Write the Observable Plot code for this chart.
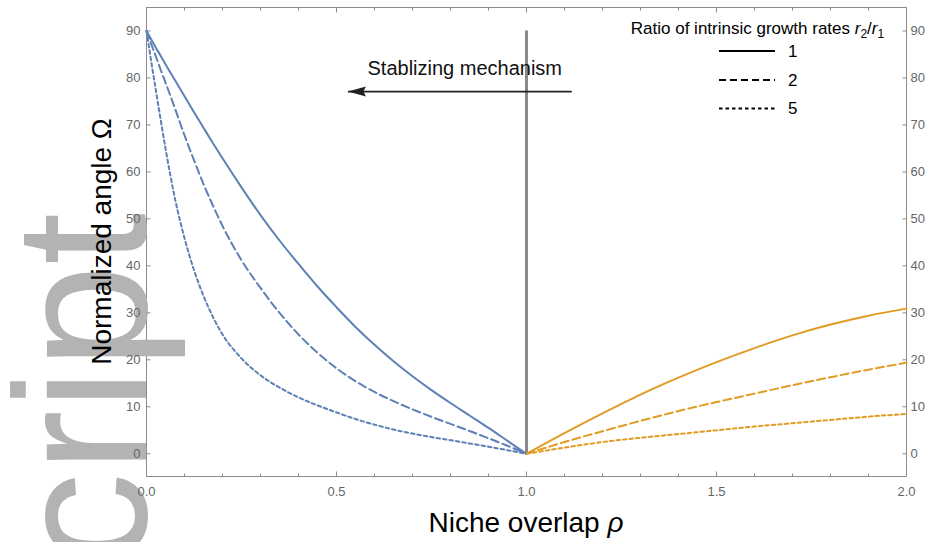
<!DOCTYPE html>
<html><head><meta charset="utf-8">
<script src="https://cdn.jsdelivr.net/npm/d3@7"></script>
<script src="https://cdn.jsdelivr.net/npm/@observablehq/plot@0.6"></script>
<style>
body{margin:0;background:#fff;}
#chart{position:relative;width:930px;height:542px;}
</style></head><body><div id="chart"></div>
<script>
// ---- data ----
const ratios = [1, 2, 5];
const ratioLabels = ["1", "2", "5"];

// stabilizing side (rho < 1)
const rhoStab = [0, 0.0125, 0.025, 0.0375, 0.05, 0.0625, 0.075, 0.1, 0.125, 0.15, 0.175, 0.2, 0.25, 0.3, 0.35, 0.4, 0.45, 0.5, 0.55, 0.6, 0.65, 0.7, 0.75, 0.8, 0.85, 0.9, 0.95, 1.0];
const omegaStab1 = [90, 88.2, 86.4, 84.7, 82.9, 81.2, 79.5, 76.1, 72.7, 69.4, 66.1, 62.9, 56.7, 50.8, 45.4, 40.4, 35.6, 31.2, 27.0, 23.2, 19.7, 16.5, 13.55, 10.8, 8.15, 5.5, 2.75, 0];
const omegaStab2 = [90, 87.2, 84.5, 81.7, 79.0, 76.3, 73.5, 67.8, 62.5, 57.4, 52.8, 48.5, 41.2, 35.3, 30.0, 25.4, 21.5, 18.2, 15.45, 13.15, 11.2, 9.45, 7.85, 6.35, 4.85, 3.3, 1.7, 0];
const omegaStab5 = [90, 83.5, 77.2, 71.0, 65.0, 59.4, 54.3, 45.9, 39.1, 33.6, 29.1, 25.4, 20.3, 16.7, 14.1, 12.0, 10.3, 8.8, 7.4, 6.2, 5.15, 4.3, 3.55, 2.9, 2.2, 1.5, 0.75, 0];

// destabilizing side (rho > 1)
const rhoDestab = [1.0, 1.1, 1.2, 1.3, 1.4, 1.5, 1.6, 1.7, 1.8, 1.9, 2.0];
const omegaDestab1 = [0, 4.4, 8.6, 12.6, 16.2, 19.5, 22.5, 25.2, 27.5, 29.4, 30.9];
const omegaDestab2 = [0, 2.5, 4.8, 7.0, 9.1, 11.0, 12.8, 14.6, 16.3, 17.9, 19.4];
const omegaDestab5 = [0, 1.3, 2.5, 3.4, 4.2, 5.0, 5.8, 6.5, 7.2, 7.9, 8.5];

// ticks
const xTicksMajor = [0, 0.5, 1, 1.5, 2];
const xTicksMinor = [0.1, 0.2, 0.3, 0.4, 0.6, 0.7, 0.8, 0.9, 1.1, 1.2, 1.3, 1.4, 1.6, 1.7, 1.8, 1.9];
const yTicks = [0, 10, 20, 30, 40, 50, 60, 70, 80, 90];

// boundary line & annotation
const boundaryRho = [1];
const boundaryOmega = [0, 90];
const annotationText = "Stablizing mechanism";
const annotationRho = 0.8375, annotationOmega = 82.0;
const arrowRho = [1.119, 0.530];   // tail, tip
const arrowOmega = 77.1;

// ---- styles ----
const blue = "#5E81B5", orange = "#E19C24";
const dashOf = {1: undefined, 2: "8,4", 5: "3.5,3"};
const axisGray = "#8c8c8c", labelGray = "#666666";
const font = "'Liberation Sans', Arial, sans-serif";

const rows = (rhos, omegas, ratio) => rhos.map((r, i) => ({rho: r, omega: omegas[i], ratio}));
const stab = [omegaStab1, omegaStab2, omegaStab5];
const destab = [omegaDestab1, omegaDestab2, omegaDestab5];

const lineMarks = [];
ratios.forEach((k, j) => {
  lineMarks.push(Plot.line(rows(rhoStab, stab[j], k), {x: "rho", y: "omega", stroke: blue, strokeWidth: 2, strokeDasharray: dashOf[k], curve: "monotone-x"}));
  lineMarks.push(Plot.line(rows(rhoDestab, destab[j], k), {x: "rho", y: "omega", stroke: orange, strokeWidth: 2, strokeDasharray: dashOf[k], curve: "monotone-x"}));
});

const arrowHead = {
  draw(ctx) {
    ctx.moveTo(0, 0);
    ctx.lineTo(18, -5);
    ctx.lineTo(15.5, 0);
    ctx.lineTo(18, 5);
    ctx.closePath();
  }
};

const W = 930, H = 542;
const M = {top: 7, right: 24, bottom: 66, left: 146};

const plot = Plot.plot({
  width: W, height: H,
  marginTop: M.top, marginRight: M.right, marginBottom: M.bottom, marginLeft: M.left,
  style: {fontFamily: font, background: "white", overflow: "visible"},
  x: {domain: [0, 2], axis: null, label: null},
  y: {domain: [-4.84, 95.0], axis: null, label: null},
  marks: [
    Plot.frame({stroke: axisGray, strokeWidth: 1}),
    // bottom axis
    Plot.axisX(xTicksMinor, {anchor: "bottom", tickSize: -2.5, tickFormat: () => "", stroke: axisGray, label: null}),
    Plot.axisX(xTicksMajor, {anchor: "bottom", tickSize: -4.5, tickFormat: () => "", stroke: axisGray, label: null}),
    Plot.axisX(xTicksMajor, {anchor: "bottom", tickSize: 0, tickPadding: 10.5, tickFormat: d3.format(".1f"), fontSize: 13, color: labelGray, label: null}),
    // top axis
    Plot.axisX(xTicksMinor, {anchor: "top", tickSize: -2.5, tickFormat: () => "", stroke: axisGray, label: null}),
    Plot.axisX(xTicksMajor, {anchor: "top", tickSize: -4.5, tickFormat: () => "", stroke: axisGray, label: null}),
    // left axis
    Plot.axisY(yTicks, {anchor: "left", tickSize: -4.5, tickFormat: () => "", stroke: axisGray, label: null}),
    Plot.axisY(yTicks, {anchor: "left", tickSize: 0, tickPadding: 6, fontSize: 13, color: labelGray, label: null}),
    // right axis
    Plot.axisY(yTicks, {anchor: "right", tickSize: -4.5, tickFormat: () => "", stroke: axisGray, label: null}),
    Plot.axisY(yTicks, {anchor: "right", tickSize: 0, tickPadding: 4, fontSize: 13, color: labelGray, label: null}),
    // boundary
    Plot.ruleX(boundaryRho, {y1: boundaryOmega[0], y2: boundaryOmega[1], stroke: "#8a8a8a", strokeWidth: 3}),
    ...lineMarks,
    // annotation
    Plot.text([annotationText], {x: annotationRho, y: annotationOmega, text: d => d, fontSize: 20, fill: "#111", textAnchor: "middle", lineAnchor: "middle"}),
    Plot.link([0], {x1: arrowRho[0], x2: arrowRho[1], y1: arrowOmega, y2: arrowOmega, stroke: "#222", strokeWidth: 1.6}),
    Plot.dot([0], {x: arrowRho[1], y: arrowOmega, symbol: arrowHead, fill: "#222", stroke: "none", r: 5})
  ]
});

document.getElementById("chart").appendChild(plot);

const svg = d3.select(plot);

// large grey text fragment behind everything (as in the reference)
svg.insert("text", ":scope > g")
  .attr("transform", "translate(146,566) rotate(-90)")
  .attr("text-anchor", "start")
  .attr("font-family", font).attr("font-size", 187).attr("fill", "#b3b3b3")
  .text("cript");

// axis titles
const xt = svg.append("text")
  .attr("x", (M.left + W - M.right) / 2).attr("y", 532)
  .attr("text-anchor", "middle").attr("font-family", font).attr("font-size", 28).attr("fill", "#000");
xt.append("tspan").text("Niche overlap ");
xt.append("tspan").attr("font-style", "italic").text("ρ");

svg.append("text")
  .attr("transform", `translate(111,${(M.top + H - M.bottom) / 2}) rotate(-90)`)
  .attr("text-anchor", "middle").attr("font-family", font).attr("font-size", 28).attr("fill", "#000")
  .text("Normalized angle Ω");

// legend
const lg = svg.append("g").attr("font-family", font).attr("font-size", 17).attr("fill", "#000");
const lt = lg.append("text").attr("x", 757.5).attr("y", 34).attr("text-anchor", "middle");
lt.append("tspan").text("Ratio of intrinsic growth rates ");
lt.append("tspan").attr("font-style", "italic").text("r");
lt.append("tspan").attr("font-size", 12).attr("dy", 4).text("2");
lt.append("tspan").attr("dy", -4).text("/");
lt.append("tspan").attr("font-style", "italic").text("r");
lt.append("tspan").attr("font-size", 12).attr("dy", 4).text("1");
const legendY = [51, 80, 108.5];
ratios.forEach((k, j) => {
  lg.append("line").attr("x1", 719).attr("x2", 775).attr("y1", legendY[j]).attr("y2", legendY[j])
    .attr("stroke", "#000").attr("stroke-width", 2).attr("stroke-dasharray", dashOf[k] ? (k === 2 ? "7,4" : "3.5,3") : null);
  lg.append("text").attr("x", 788).attr("y", legendY[j]).attr("dy", "0.35em").attr("text-anchor", "start").text(ratioLabels[j]);
});
</script></body></html>
